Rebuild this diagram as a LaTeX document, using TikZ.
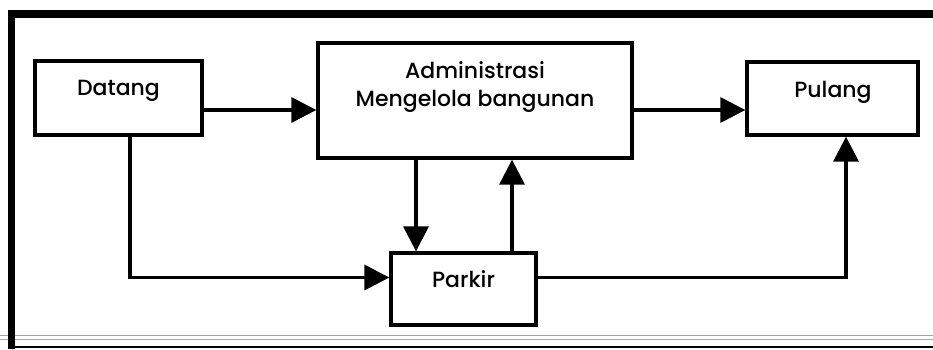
\documentclass[tikz,border=0pt]{standalone}
\usepackage{fontspec}
\setmainfont{Poppins}[UprightFont=* Medium]
\usetikzlibrary{arrows.meta}
\begin{document}
\begin{tikzpicture}[x=1pt,y=-1pt,
  box/.style={draw,line width=3.3pt,rectangle,inner sep=0pt},
  lbl/.style={anchor=base,inner sep=0pt,font=\fontsize{22}{26}\selectfont},
  conn/.style={line width=3.3pt,-{Triangle[length=25pt,width=25pt]}},
  line join=miter]
\useasboundingbox (0,0) rectangle (933,349);
% frame
\draw[gray!70,line width=1pt] (0,335) -- (933,335);
\draw[gray!70,line width=1pt] (0,339) -- (933,339);
\draw[line width=2.2pt] (8,347) -- (933,347);
\draw[line width=7.5pt] (11.5,10) -- (11.5,349);
\draw[line width=8pt] (7.7,14) -- (933,14);
% boxes
\node[box,minimum width=167pt,minimum height=74pt] (datang) at (118.5,98) {};
\node[box,minimum width=314pt,minimum height=115pt] (admin) at (475,100.5) {};
\node[box,minimum width=171pt,minimum height=73pt] (pulang) at (832.5,98.5) {};
\node[box,minimum width=145pt,minimum height=72pt] (parkir) at (463.5,289) {};
% labels
\node[lbl] (tdatang) at (118.5,95.5) {Datang};
\node[lbl] (tadmin1) at (475,78) {Administrasi};
\node[lbl] (tadmin2) at (475,106) {Mengelola bangunan};
\node[lbl] (tpulang) at (833,97) {Pulang};
\node[lbl] (tparkir) at (463.5,287) {Parkir};
% helper coordinates
\coordinate (r1) at (0,110);
\coordinate (r2) at (0,277.5);
\coordinate (c1) at (130,0);
\coordinate (c2) at (416,0);
\coordinate (c3) at (512,0);
\coordinate (c4) at (846,0);
% connectors
\draw[conn] (datang.east |- r1) -- (admin.west |- r1);
\draw[conn] (admin.east |- r1) -- (pulang.west |- r1);
\draw[conn] (c1 |- datang.south) |- (parkir.west |- r2);
\draw[conn] (c2 |- admin.south) -- (c2 |- parkir.north);
\draw[conn] (c3 |- parkir.north) -- (c3 |- admin.south);
\draw[conn] (parkir.east |- r2) -| (c4 |- pulang.south);
\end{tikzpicture}
\end{document}
